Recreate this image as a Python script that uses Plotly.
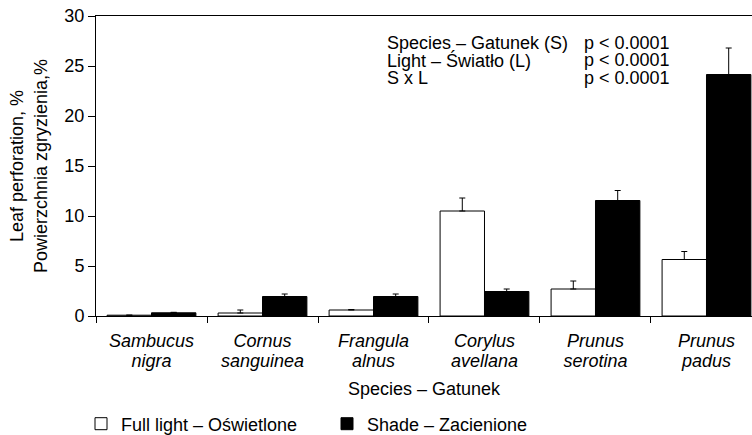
import plotly.graph_objects as go

species_line1 = ["Sambucus", "Cornus", "Frangula", "Corylus", "Prunus", "Prunus"]
species_line2 = ["nigra", "sanguinea", "alnus", "avellana", "serotina", "padus"]
light_vals = [0.08, 0.3, 0.6, 10.5, 2.7, 5.65]
light_err = [0.0, 0.3, 0.05, 1.3, 0.8, 0.8]
shade_vals = [0.32, 1.95, 1.95, 2.45, 11.55, 24.15]
shade_err = [0.05, 0.25, 0.25, 0.25, 1.0, 2.65]
y_ticks = [0, 5, 10, 15, 20, 25, 30]
stats_left = ["Species – Gatunek (S)", "Light – Światło (L)", "S x L"]
stats_right = ["p < 0.0001", "p < 0.0001", "p < 0.0001"]

FONT = "Liberation Sans, Arial, sans-serif"
pos = list(range(len(species_line1)))
boundaries = [p - 0.5 for p in pos] + [pos[-1] + 0.5]
xr = [-0.5, 5.41]

fig = go.Figure()
fig.add_trace(go.Bar(
    x=pos, y=light_vals, name="Full light – Oświetlone",
    marker=dict(color="white", line=dict(color="black", width=1)),
    error_y=dict(type="data", array=light_err, arrayminus=[0]*6, symmetric=False,
                 color="black", thickness=1, width=3),
))
fig.add_trace(go.Bar(
    x=pos, y=shade_vals, name="Shade – Zacienione",
    marker=dict(color="black", line=dict(color="black", width=1)),
    error_y=dict(type="data", array=shade_err, arrayminus=[0]*6, symmetric=False,
                 color="black", thickness=1, width=3),
))
fig.add_trace(go.Scatter(x=[], y=[], xaxis="x2", showlegend=False, hoverinfo="skip"))

annotations = []
line_y = [0.91, 0.852, 0.794]
for i in range(3):
    annotations.append(dict(xref="paper", yref="paper", x=(385 - 96) / 656, y=line_y[i],
                            xanchor="left", yanchor="middle", text=stats_left[i], showarrow=False,
                            font=dict(size=18, family=FONT, color="black")))
    annotations.append(dict(xref="paper", yref="paper", x=(582 - 96) / 656, y=line_y[i],
                            xanchor="left", yanchor="middle", text=stats_right[i], showarrow=False,
                            font=dict(size=18, family=FONT, color="black")))

fig.update_layout(
    width=752, height=435,
    margin=dict(l=96, r=0, t=16, b=119),
    paper_bgcolor="white", plot_bgcolor="white",
    barmode="group", bargap=0.2, bargroupgap=0,
    font=dict(family=FONT, size=18, color="black"),
    xaxis=dict(
        range=xr, showgrid=False, zeroline=False, automargin=False,
        showline=True, linecolor="black", linewidth=1, mirror=True,
        tickmode="array", tickvals=pos, ticktext=species_line1, ticks="",
        tickfont=dict(size=18, family=FONT, style="italic"),
        ticklabelstandoff=8,
        minor=dict(tickmode="array", tickvals=boundaries, ticks="outside",
                   ticklen=6, tickcolor="black", tickwidth=1),
        title=dict(text="Species – Gatunek", font=dict(size=18), standoff=32),
    ),
    xaxis2=dict(
        overlaying="x", anchor="y", side="bottom", range=xr, automargin=False,
        showgrid=False, zeroline=False, showline=False,
        tickmode="array", tickvals=pos, ticktext=species_line2, ticks="",
        tickfont=dict(size=18, family=FONT, style="italic"),
        ticklabelstandoff=32,
    ),
    yaxis=dict(
        range=[0, 30], showgrid=False, zeroline=False, automargin=False,
        showline=True, linecolor="black", linewidth=1,
        tickmode="array", tickvals=y_ticks, ticks="outside", ticklen=7,
        tickcolor="black", tickfont=dict(size=18),
        title=dict(text="Leaf perforation, %<br>Powierzchnia zgryzienia,%",
                   font=dict(size=18), standoff=12),
    ),
    legend=dict(orientation="h", xref="container", yref="container",
                x=81 / 752, xanchor="left", y=(435 - 424) / 435, yanchor="middle",
                font=dict(size=18), entrywidth=201, traceorder="normal"),
    annotations=annotations,
)

fig.write_html("out.html", config={"displayModeBar": False},
               post_script="document.body.style.margin='0';document.body.style.overflow='hidden';")
